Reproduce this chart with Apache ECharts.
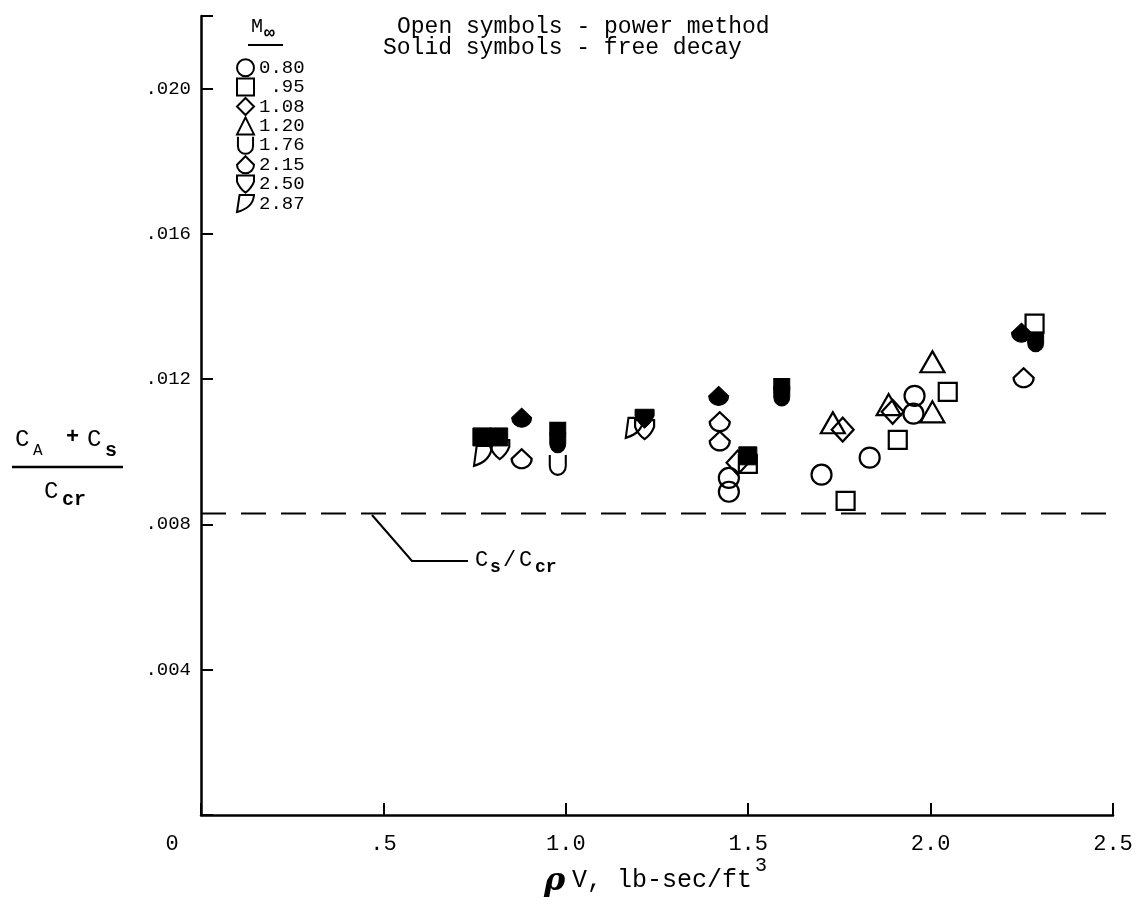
<!DOCTYPE html>
<html>
<head>
<meta charset="utf-8">
<script src="https://cdn.jsdelivr.net/npm/echarts@6/dist/echarts.min.js"></script>
<style>
  html, body { margin: 0; padding: 0; background: #fff; }
  #chart { width: 1140px; height: 915px; }
</style>
</head>
<body>
<div id="chart"></div>
<script>
// tick labels
const xTickLabels = ['0', '.5', '1.0', '1.5', '2.0', '2.5'];
const yTickLabels = ['', '.004', '.008', '.012', '.016', '.020'];

// Mach numbers (legend)
const machLabels = ['0.80', '.95', '1.08', '1.20', '1.76', '2.15', '2.50', '2.87'];

// [rhoV, (CA+Cs)/Ccr] - open = power method, solid = free decay
const m080Open = [[1.447, 0.00928], [1.447, 0.00890], [1.701, 0.00937], [1.833, 0.00984], [1.956, 0.01154], [1.953, 0.01105]];
const m095Open = [[1.499, 0.00967], [1.767, 0.00865], [1.910, 0.01033], [2.047, 0.01165], [2.285, 0.01353]];
const m095Solid = [[0.770, 0.01041], [0.816, 0.01041], [1.499, 0.00989]];
const m108Open = [[1.471, 0.00970], [1.759, 0.01061], [1.896, 0.01110]];
const m120Open = [[1.732, 0.01080], [1.885, 0.01130], [2.005, 0.01110], [2.005, 0.01248]];
const m176Open = [[0.978, 0.00964]];
const m176Solid = [[0.978, 0.01055], [0.978, 0.01025], [1.592, 0.01176], [1.592, 0.01154], [2.288, 0.01303]];
const m215Open = [[0.879, 0.00981], [1.422, 0.01083], [1.422, 0.01030], [2.255, 0.01204]];
const m215Solid = [[0.879, 0.01094], [1.419, 0.01154], [2.249, 0.01328]];
const m250Open = [[0.819, 0.01006], [1.216, 0.01061]];
const m250Solid = [[1.216, 0.01091]];
const m287Open = [[0.773, 0.00989], [1.189, 0.01066]];

// Cs/Ccr dashed line
const csRatio = 0.0083;
const csRange = [0, 2.49];

const FONT = '"Liberation Mono", "DejaVu Sans Mono", monospace';

// symbol shapes
const symU = 'path://M0,0 L0,10 A8,8 0 0 0 16,10 L16,0';
const sym215 = 'path://M10,0 L20,10 A10,10 0 0 1 0,10 Z';
const symShield = 'path://M0,0 L20,0 L20,7 Q17,15 10,20 Q3,15 0,7 Z';
const symFlag = 'path://M3,0 L20,0 Q19,15 0,20 Z';

const openStyle = { color: 'rgba(255,255,255,0)', borderColor: '#000', borderWidth: 2.2, opacity: 1 };
const solidStyle = { color: '#000', borderColor: '#000', borderWidth: 1, opacity: 1 };

function pts(name, data, symbol, size, solid) {
  return {
    name: name,
    type: 'scatter',
    data: data,
    symbol: symbol,
    symbolSize: size,
    symbolKeepAspect: true,
    itemStyle: solid ? solidStyle : openStyle,
    emphasis: { disabled: true },
    z: solid ? 3 : 2
  };
}

const series = [
  pts('0.80', m080Open, 'circle', 20, false),
  pts('.95', m095Open, 'rect', 18, false),
  pts('1.08', m108Open, 'diamond', [22, 24], false),
  pts('1.20', m120Open, 'triangle', [24, 21], false),
  pts('1.76', m176Open, symU, [18, 20], false),
  pts('2.15', m215Open, sym215, [20, 19], false),
  pts('2.50', m250Open, symShield, [19, 19], false),
  pts('2.87', m287Open, symFlag, [18, 20], false),
  pts('.95 solid', m095Solid, 'rect', 18, true),
  pts('1.76 solid', m176Solid, symU, [18, 20], true),
  pts('2.15 solid', m215Solid, sym215, [20, 19], true),
  pts('2.50 solid', m250Solid, symShield, [19, 19], true),
  {
    name: 'Cs/Ccr',
    type: 'line',
    data: [[csRange[0], csRatio], [csRange[1], csRatio]],
    symbol: 'none',
    lineStyle: { color: '#000', width: 2, type: [25, 15] },
    silent: true,
    z: 1
  }
];

function txt(x, y, text, size, opts) {
  return {
    type: 'text', x: x, y: y,
    style: Object.assign({
      text: text, fontFamily: FONT, fontSize: size, fill: '#000',
      align: 'left', verticalAlign: 'middle'
    }, opts || {})
  };
}

const chart = echarts.init(document.getElementById('chart'));
chart.setOption({
  animation: false,
  backgroundColor: '#fff',
  grid: { left: 201, right: 27, top: 16, bottom: 100 },
  xAxis: {
    type: 'value', min: 0, max: 2.5, interval: 0.5,
    splitLine: { show: false },
    axisLine: { lineStyle: { color: '#000', width: 2.5 } },
    axisTick: { inside: true, length: 12, lineStyle: { color: '#000', width: 2 } },
    axisLabel: {
      margin: 18, color: '#000', fontFamily: FONT, fontSize: 22,
      formatter: function (v) {
        const s = xTickLabels[Math.round(v / 0.5)];
        return v === 0 ? '{z|' + s + '}' : s;
      },
      rich: { z: { fontFamily: FONT, fontSize: 22, color: '#000', padding: [0, 58, 0, 0] } }
    }
  },
  yAxis: {
    type: 'value', min: 0, max: 0.022, interval: 0.004,
    splitLine: { show: false },
    axisLine: { lineStyle: { color: '#000', width: 2.5 } },
    axisTick: { inside: true, length: 12, lineStyle: { color: '#000', width: 2 } },
    axisLabel: {
      margin: 10, color: '#000', fontFamily: FONT, fontSize: 19,
      showMaxLabel: true,
      formatter: function (v) {
        if (v > 0.0205) return '';
        return yTickLabels[Math.round(v / 0.004)] || '';
      }
    }
  },
  legend: {
    data: machLabels,
    orient: 'vertical',
    left: 231, top: 53,
    itemWidth: 17, itemHeight: 17, itemGap: 0,
    selectedMode: false,
    formatter: function (name) { return name === '.95' ? ' .95' : name; },
    textStyle: { fontFamily: FONT, fontSize: 19, color: '#000', lineHeight: 19.4, padding: [0, 0, 0, 0] }
  },
  series: series,
  graphic: [
    // legend header
    txt(251, 27, 'M', 20),
    txt(264, 33, '\u221e', 18, { fontWeight: 'bold' }),
    { type: 'line', shape: { x1: 248, y1: 45, x2: 283, y2: 45 }, style: { stroke: '#000', lineWidth: 2 } },
    // notes
    txt(397, 27, 'Open symbols - power method', 23),
    txt(383, 48, 'Solid symbols - free decay', 23),
    // y-axis title
    txt(15, 440, 'C', 24),
    txt(33, 451, 'A', 16),
    txt(66, 437, '+', 22, { fontWeight: 'bold' }),
    txt(87, 440, 'C', 24),
    txt(105, 451, 's', 20, { fontWeight: 'bold' }),
    { type: 'line', shape: { x1: 12, y1: 467, x2: 123, y2: 467 }, style: { stroke: '#000', lineWidth: 2.5 } },
    txt(44, 492, 'C', 24),
    txt(62, 500, 'cr', 20, { fontWeight: 'bold' }),
    // Cs/Ccr leader and label
    { type: 'polyline', shape: { points: [[372, 515], [412, 561], [468, 561]] }, style: { stroke: '#000', lineWidth: 2, fill: null } },
    txt(475, 560, 'C', 22),
    txt(490, 567, 's', 18, { fontWeight: 'bold' }),
    txt(503, 560, '/', 22),
    txt(519, 560, 'C', 22),
    txt(535, 567, 'cr', 18, { fontWeight: 'bold' }),
    // x-axis title
    txt(544, 882, '\u03c1', 32, { fontFamily: '"DejaVu Serif", serif', fontWeight: 'bold', fontStyle: 'italic' }),
    txt(572, 880, 'V, lb-sec/ft', 25),
    txt(755, 866, '3', 20)
  ]
});
</script>
</body>
</html>
